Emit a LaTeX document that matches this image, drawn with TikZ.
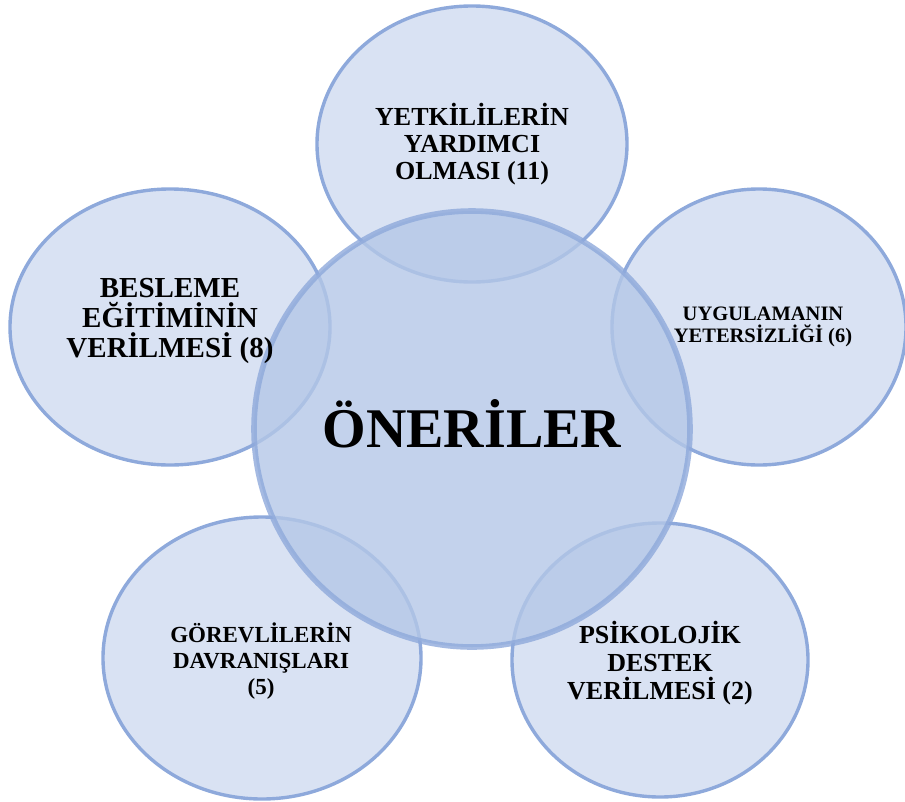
\documentclass[tikz,border=0pt]{standalone}
\usepackage{fontspec}
\setmainfont{Liberation Serif}
\usetikzlibrary{shapes.geometric}

\definecolor{petalfill}{HTML}{D9E2F3}
\definecolor{petaledge}{HTML}{8EA9DB}
\definecolor{corefill}{HTML}{B4C7E7}

\tikzset{
  petal/.style={ellipse, draw=petaledge, fill=petalfill, line width=3.4pt, inner sep=0pt},
  core/.style={circle, draw=petaledge, fill=corefill, fill opacity=0.8, draw opacity=0.8,
    line width=5.6pt, minimum size=436pt, inner sep=0pt},
  lbl/.style={align=center, text=black}
}

\begin{document}
\begin{tikzpicture}[x=1pt,y=-1pt]
    \useasboundingbox (0,0) rectangle (905,801);
    % five petals first, the core lies over them
    \node[petal, minimum width=310pt, minimum height=276pt] (yetki) at (472,144) {};
    \node[petal, minimum width=320pt, minimum height=276pt] (besleme) at (170,327) {};
    \node[petal, minimum width=294pt, minimum height=276pt] (uygulama) at (759,327) {};
    \node[petal, minimum width=318pt, minimum height=282pt] (gorevli) at (262,658) {};
    \node[petal, minimum width=296pt, minimum height=274pt] (psiko) at (660,660) {};
    \node[core] (oneri) at (472,429) {};
    % texts on top
    \node[lbl, font=\bfseries\fontsize{56}{60}\selectfont, anchor=base] (oneriText) at (472,447) {ÖNERİLER};
    \node[lbl, font=\bfseries\fontsize{26}{27}\selectfont] (yetkiText) at (yetki) {YETKİLİLERİN\\YARDIMCI\\OLMASI (11)};
    \node[lbl, font=\bfseries\fontsize{29}{30}\selectfont] (beslemeText) at (170,321) {BESLEME\\EĞİTİMİNİN\\VERİLMESİ (8)};
    \node[lbl, font=\bfseries\fontsize{20.5}{22}\selectfont] (uygulamaText) at (763,327) {UYGULAMANIN\\YETERSİZLİĞİ (6)};
    \node[lbl, font=\bfseries\fontsize{23}{26}\selectfont] (gorevliText) at (261,661) {GÖREVLİLERİN\\DAVRANIŞLARI\\(5)};
    \node[lbl, font=\bfseries\fontsize{26}{28}\selectfont] (psikoText) at (660,663) {PSİKOLOJİK\\DESTEK\\VERİLMESİ (2)};
\end{tikzpicture}
\end{document}
